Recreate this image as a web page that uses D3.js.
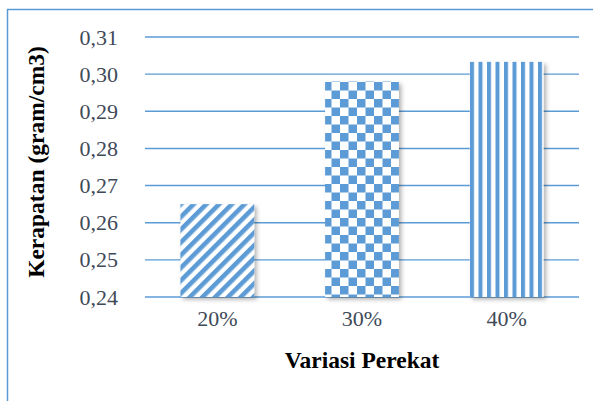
<!DOCTYPE html>
<html><head><meta charset="utf-8">
<script src="https://cdn.jsdelivr.net/npm/d3@7"></script>
<style>body{margin:0;background:#fff}svg{display:block}
text{font-family:"Liberation Serif","Times New Roman",Times,serif !important;}
</style>
</head><body>
<script>
const categories = ["20%", "30%", "40%"];
const values = [0.265, 0.298, 0.3033];
const yTicks = [0.24, 0.25, 0.26, 0.27, 0.28, 0.29, 0.30, 0.31];
const patterns = ["diag", "checker", "vert"];
const xTitle = "Variasi Perekat";
const yTitle = "Kerapatan (gram/cm3)";

const W = 593, H = 401;
const blue = "#5b9bd5";
const svg = d3.select("body").append("svg").attr("width", W).attr("height", H);
const defs = svg.append("defs");

const pd = defs.append("pattern").attr("id", "diag").attr("patternUnits", "userSpaceOnUse")
  .attr("width", 9).attr("height", 9).attr("patternTransform", "rotate(45)");
pd.append("rect").attr("width", 9).attr("height", 9).attr("fill", "#fff");
pd.append("rect").attr("width", 4.6).attr("height", 9).attr("fill", blue);

const pc = defs.append("pattern").attr("id", "checker").attr("patternUnits", "userSpaceOnUse")
  .attr("width", 17).attr("height", 17).attr("x", 323).attr("y", 82);
pc.append("rect").attr("width", 17).attr("height", 17).attr("fill", "#fff");
pc.append("rect").attr("width", 8.5).attr("height", 8.5).attr("fill", blue);
pc.append("rect").attr("x", 8.5).attr("y", 8.5).attr("width", 8.5).attr("height", 8.5).attr("fill", blue);

const pv = defs.append("pattern").attr("id", "vert").attr("patternUnits", "userSpaceOnUse")
  .attr("width", 8.5).attr("height", 10).attr("x", 470);
pv.append("rect").attr("width", 8.5).attr("height", 10).attr("fill", "#fff");
pv.append("rect").attr("width", 4).attr("height", 10).attr("fill", blue);

const f = defs.append("filter").attr("id", "sh").attr("x", "-20%").attr("y", "-20%").attr("width", "150%").attr("height", "150%");
f.append("feDropShadow").attr("dx", 2.5).attr("dy", 2.5).attr("stdDeviation", 2.2).attr("flood-color", "#000").attr("flood-opacity", 0.3);

svg.append("rect").attr("x", 7.5).attr("y", 9.5).attr("width", 700).attr("height", 500)
  .attr("fill", "none").attr("stroke", blue).attr("stroke-width", 1.5);

const x = d3.scaleBand().domain(categories).range([145, 579]).paddingInner(0.49).paddingOuter(0.245);
const y = d3.scaleLinear().domain([0.24, 0.31]).range([297, 37]);

svg.append("g").selectAll("line").data(yTicks).join("line")
  .attr("x1", 145).attr("x2", 579)
  .attr("y1", d => y(d)).attr("y2", d => y(d))
  .attr("stroke", blue).attr("stroke-width", 1.4);

svg.append("g").selectAll("rect").data(values).join("rect")
  .attr("x", (d, i) => x(categories[i]))
  .attr("width", x.bandwidth())
  .attr("y", d => y(d))
  .attr("height", d => y(0.24) - y(d))
  .attr("fill", (d, i) => `url(#${patterns[i]})`)
  .attr("filter", "url(#sh)");

const yAxis = d3.axisLeft(y).tickValues(yTicks).tickSize(0).tickPadding(0)
  .tickFormat(d => d3.format(".2f")(d).replace(".", ","));
const gy = svg.append("g").attr("transform", "translate(118,0)").call(yAxis);
gy.select(".domain").remove();
gy.attr("font-family", null).attr("font-size", null);
gy.selectAll("text").attr("font-size", 22).attr("fill", "#3f4a59");

const xAxis = d3.axisBottom(x).tickSize(0).tickPadding(0);
const gx = svg.append("g").attr("transform", "translate(0,310)").call(xAxis);
gx.select(".domain").remove();
gx.attr("font-family", null).attr("font-size", null);
gx.selectAll("text").attr("font-size", 22).attr("fill", "#3f4a59");

svg.append("text").attr("x", 362).attr("y", 368).attr("text-anchor", "middle")
  .attr("font-weight", "bold").attr("font-size", 23.5).attr("fill", "#000")
  .text(xTitle);
svg.append("text").attr("transform", "translate(44,162) rotate(-90)").attr("text-anchor", "middle")
  .attr("font-weight", "bold").attr("font-size", 23.5).attr("fill", "#000")
  .text(yTitle);
</script>
</body></html>
